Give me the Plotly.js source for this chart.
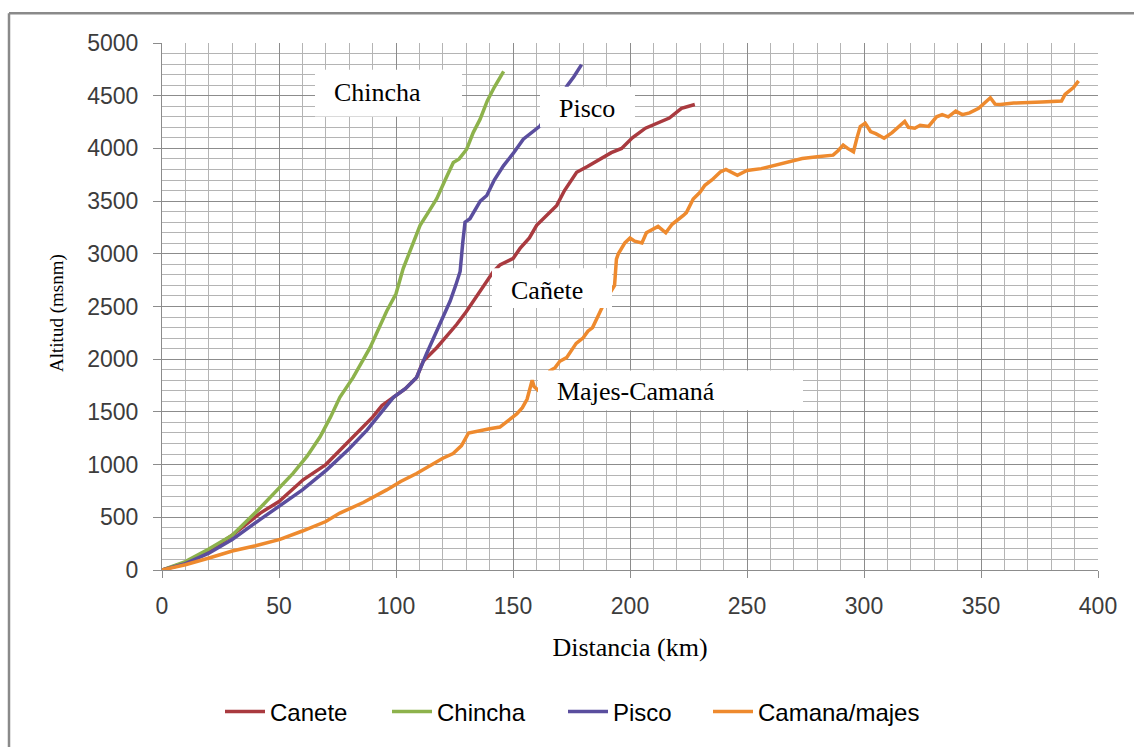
<!DOCTYPE html>
<html>
<head>
<meta charset="utf-8">
<script src="https://cdn.plot.ly/plotly-3.0.1.min.js"></script>
<style>html,body{margin:0;padding:0;background:#fff;}#chart{width:1134px;height:747px;}</style>
</head>
<body>
<div id="chart"></div>
<script>
// ---- data ----
const seriesNames = ["Canete", "Chincha", "Pisco", "Camana/majes"];

const caneteX = [0,10,20,30,42,50,60.3,70,77.4,84,90,94,98.8,104,108.8,111.7,117.4,121,125.9,130,135.9,141.6,144.4,150.1,153,157,160.1,165.8,168.7,172,177.2,182,187.6,192,196.4,201,206.6,211,216.8,222,227.7];
const caneteY = [0,70,180,330,540,650,856,1000,1167,1320,1450,1560,1638,1720,1827,1984,2109,2200,2329,2450,2643,2832,2894,2957,3051,3150,3270,3396,3459,3600,3773,3830,3904,3960,4000,4100,4192,4230,4288,4380,4417];

const chinchaX = [0,10,20,30,42,50,56,62,67.5,72,76,81.7,88.9,96,100,103.1,107,110.3,114,117.4,121,124.5,127,130.2,133,135.9,139,142,146];
const chinchaY = [0,80,200,330,590,780,916,1080,1262,1450,1638,1827,2109,2455,2620,2862,3080,3270,3400,3522,3700,3867,3900,3992,4150,4275,4450,4580,4730];

const piscoX = [0,10,20,30,42,50,60,70.4,80,87.6,93,98.9,104,108.8,113,117.4,120,123.1,125.5,127.4,128.5,129.5,131.6,134,136,138.8,142,145.9,150,154.4,158,161.5,166,170,173,176,179.3];
const piscoY = [0,60,160,290,480,600,760,950,1150,1327,1480,1638,1720,1827,2050,2266,2400,2549,2700,2832,3100,3300,3333,3420,3500,3553,3700,3835,3950,4087,4150,4212,4350,4450,4590,4680,4795];

const camanaX = [0,10,20.5,30,40,50.4,60,70,76,86,96,102,108.8,115.8,120,124.4,128,131,135,140,144.4,148,151.6,154,156,158.2,159,161.5,163,164.5,165.8,168,170,172.9,175,177,180,182,184,187.2,190,192,193.4,194.2,195,197.8,200,202,205.1,207,209.5,212,215.3,218,222.8,224.1,227,229.9,232,235,238.6,241,245.9,250,256.1,262,268,273.6,280,286.8,289,291.1,293,295.5,297,298.4,300.5,302.8,305,308.6,312,317.4,319,321.7,324,327.6,331,333.4,336,339.2,342,345.1,349,352.4,354,356,358.2,364,369.9,376,384.4,385.9,389.5,391.7];
const camanaY = [0,50,116,180,230,290,370,460,540,640,760,840,916,1010,1060,1105,1180,1300,1320,1340,1356,1420,1481,1540,1620,1800,1740,1690,1760,1820,1890,1920,1980,2015,2080,2150,2203,2266,2300,2455,2580,2650,2700,2950,3000,3103,3150,3120,3103,3200,3231,3260,3199,3280,3364,3391,3520,3583,3650,3700,3776,3800,3744,3790,3808,3840,3880,3904,3920,3936,3980,4032,4000,3968,4100,4208,4240,4160,4140,4096,4150,4256,4200,4192,4220,4208,4300,4320,4300,4353,4320,4337,4380,4449,4480,4420,4417,4430,4433,4440,4449,4513,4577,4641];

const labelTexts = ["Chincha", "Pisco", "Cañete", "Majes-Camaná"];
const xTitle = "Distancia (km)";
const yTitle = "Altitud (msnm)";

// ---- layout helpers (pixel -> paper) ----
const W = 1134, H = 747;
const L = 162, R = 1098, T = 43, B = 574;
const px = v => (v - L) / (R - L);
const py = v => (B - v) / (B - T);

const colors = ["#A93A3F", "#8DB24C", "#5A4E9E", "#EE8A2E"];
const xs = [caneteX, chinchaX, piscoX, camanaX];
const ys = [caneteY, chinchaY, piscoY, camanaY];
const legendIds = ["legend", "legend2", "legend3", "legend4"];
const legendStartPx = [226, 393, 569, 714];

const traces = seriesNames.map((n, i) => ({
  type: "scatter", mode: "lines", name: n,
  x: xs[i], y: ys[i],
  legend: legendIds[i],
  line: {color: colors[i], width: 3.5},
  hoverinfo: "x+y+name"
}));

// label boxes (pixel positions)
const boxes = [
  {x0: 315, x1: 462, y0: 70, y1: 117, tx: 332, ty: 93},
  {x0: 540, x1: 635, y0: 87, y1: 128, tx: 557, ty: 109},
  {x0: 492, x1: 612, y0: 270, y1: 310, tx: 509, ty: 292},
  {x0: 538, x1: 803, y0: 373, y1: 413, tx: 555, ty: 394}
];

const shapes = boxes.map(b => ({
  type: "rect", xref: "paper", yref: "paper", layer: "above",
  x0: px(b.x0), x1: px(b.x1), y0: py(b.y1), y1: py(b.y0),
  fillcolor: "#ffffff", line: {width: 0}
}));
// outer chart frame (left + top)
shapes.push({type: "line", xref: "paper", yref: "paper", x0: px(9), x1: px(9), y0: py(13), y1: py(760), line: {color: "#8a8a8a", width: 2.5}});
shapes.push({type: "line", xref: "paper", yref: "paper", x0: px(9), x1: px(1140), y0: py(13), y1: py(13), line: {color: "#8a8a8a", width: 2.5}});

const annotations = boxes.map((b, i) => ({
  xref: "paper", yref: "paper", x: px(b.tx), y: py(b.ty),
  xanchor: "left", yanchor: "middle", showarrow: false,
  text: labelTexts[i],
  font: {family: "Liberation Serif, Times New Roman, serif", size: 26, color: "#000"}
}));
annotations.push({
  xref: "paper", yref: "paper", x: px(57), y: py(315),
  xanchor: "center", yanchor: "middle", showarrow: false, textangle: -90,
  text: yTitle,
  font: {family: "Liberation Serif, Times New Roman, serif", size: 19, color: "#000"}
});

const tickFont = {family: "Liberation Sans, Arial, sans-serif", size: 23, color: "#3c3c3c"};

const layout = {
  width: W, height: H,
  margin: {l: L, r: W - R, t: T, b: H - B},
  paper_bgcolor: "#ffffff", plot_bgcolor: "#ffffff",
  showlegend: true,
  xaxis: {
    range: [0, 400], dtick: 50, tick0: 0,
    showgrid: true, gridcolor: "#8c8c8c", gridwidth: 1,
    minor: {dtick: 10, showgrid: true, gridcolor: "#b4b4b4", gridwidth: 1},
    showline: true, linecolor: "#8c8c8c", linewidth: 1,
    ticks: "outside", ticklen: 7, tickcolor: "#8c8c8c",
    ticklabelstandoff: 8,
    tickfont: tickFont, zeroline: false,
    title: {text: xTitle, standoff: 20, font: {family: "Liberation Serif, Times New Roman, serif", size: 26, color: "#000"}}
  },
  yaxis: {
    range: [0, 5000], dtick: 500, tick0: 0,
    showgrid: true, gridcolor: "#8c8c8c", gridwidth: 1,
    minor: {dtick: 100, showgrid: true, gridcolor: "#b4b4b4", gridwidth: 1},
    showline: true, linecolor: "#8c8c8c", linewidth: 1,
    ticks: "outside", ticklen: 8, tickcolor: "#8c8c8c",
    ticklabelstandoff: 10,
    tickfont: tickFont, zeroline: false
  },
  shapes: shapes,
  annotations: annotations
};

legendIds.forEach((id, i) => {
  layout[id] = {
    orientation: "h", x: px(legendStartPx[i] - 6), xanchor: "left", y: py(717), yanchor: "middle",
    font: {family: "Liberation Sans Narrow, Arial Narrow, sans-serif", size: 24, color: "#000"},
    itemwidth: 40, bgcolor: "rgba(0,0,0,0)"
  };
});

Plotly.newPlot("chart", traces, layout, {displayModeBar: false, staticPlot: true});
</script>
</body>
</html>
